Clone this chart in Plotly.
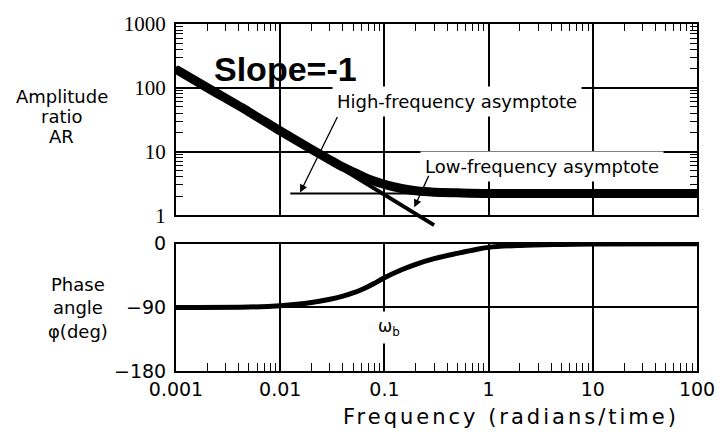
import plotly.graph_objects as go

# ---------------- data ----------------
freq_ar = [0.001, 0.002, 0.005, 0.01, 0.02, 0.03, 0.04, 0.05, 0.07, 0.1, 0.15, 0.2, 0.3, 0.5, 1, 10, 100]
ar = [195, 100, 42, 21, 10.8, 7.4, 5.7, 4.8, 3.7, 3.05, 2.6, 2.42, 2.3, 2.25, 2.2, 2.2, 2.2]

freq_slope_asym = [0.001, 0.3]
ar_slope_asym = [210, 0.7]

freq_flat_asym = [0.0125, 100]
ar_flat_asym = [2.2, 2.2]

freq_phase = [0.001, 0.005, 0.01, 0.02, 0.03, 0.04, 0.05, 0.06, 0.07, 0.08, 0.1, 0.15, 0.2, 0.3, 0.5, 0.7, 1, 2, 5, 10, 100]
phase = [-90, -89.5, -87.5, -83, -78.5, -74, -69.5, -65, -60.5, -56, -48, -36, -29, -21, -13.5, -9, -5, -2.2, -0.8, -0.3, 0]

x_tickvals = [0.001, 0.01, 0.1, 1, 10, 100]
x_ticktext = ["0.001", "0.01", "0.1", "1", "10", "100"]
ar_tickvals = [1, 10, 100, 1000]
ar_ticktext = ["1", "10", "100", "1000"]
phase_tickvals = [-180, -90, 0]
phase_ticktext = ["\u2212180", "\u221290", "0"]

ar_label_lines = ["Amplitude", "ratio", "AR"]
phase_label_lines = ["Phase", "angle", "\u03c6(deg)"]
x_title = "Frequency (radians/time)"

# ---------------- geometry ----------------
W, H = 727, 439
L, R, T, B = 176, 705, 19, 371
PW, PH = R - L, B - T
top_bottom_px = 213
bot_top_px = 242
top_dom = [(B - top_bottom_px) / PH, 1.0]
bot_dom = [0.0, (B - bot_top_px) / PH]
# extra invisible subplot so the slope asymptote can run below the frame
ext_px = 12
ext_dom = [(B - top_bottom_px - ext_px) / PH, 1.0]
px_per_dec = (top_bottom_px - T) / 3.0
ext_range = [-ext_px / px_per_dec, 3]


def px(xp):
    return (xp - L) / PW


def py(yp):
    return (B - yp) / PH


minor_x = [k * 10 ** e for e in range(-3, 2) for k in range(2, 10)]
minor_y = [k * 10 ** e for e in range(0, 3) for k in range(2, 10)]

FONT = "DejaVu Sans"

fig = go.Figure()

fig.add_trace(go.Scatter(x=freq_flat_asym, y=ar_flat_asym, mode="lines",
                         line=dict(color="black", width=2), xaxis="x", yaxis="y",
                         showlegend=False, hoverinfo="skip"))
fig.add_trace(go.Scatter(x=freq_ar, y=ar, mode="lines",
                         line=dict(color="black", width=9, shape="spline", smoothing=0.8),
                         xaxis="x", yaxis="y", showlegend=False))
fig.add_trace(go.Scatter(x=freq_slope_asym, y=ar_slope_asym, mode="lines",
                         line=dict(color="black", width=4), xaxis="x3", yaxis="y3",
                         showlegend=False, hoverinfo="skip"))
fig.add_trace(go.Scatter(x=freq_phase, y=phase, mode="lines",
                         line=dict(color="black", width=5, shape="spline", smoothing=1.0),
                         xaxis="x2", yaxis="y2", showlegend=False))

axis_common = dict(showline=True, linecolor="black", linewidth=2, mirror=True,
                   showgrid=True, gridcolor="black", gridwidth=1.6, zeroline=False)

fig.update_layout(
    width=W, height=H,
    margin=dict(l=L, r=W - R, t=T, b=H - B),
    paper_bgcolor="white", plot_bgcolor="rgba(0,0,0,0)",
    font=dict(family=FONT, size=18, color="black"),
    showlegend=False,
    xaxis=dict(type="log", range=[-3, 2], domain=[0, 1], anchor="y", side="top",
               tickmode="array", tickvals=x_tickvals, showticklabels=False,
               ticks="inside", ticklen=7, tickcolor="black", tickwidth=1.5,
               minor=dict(tickmode="array", tickvals=minor_x, ticks="inside", ticklen=7,
                          tickcolor="black", tickwidth=1.3, showgrid=False),
               **axis_common),
    yaxis=dict(type="log", range=[0, 3], domain=top_dom, anchor="x",
               tickmode="array", tickvals=ar_tickvals, ticktext=ar_ticktext,
               ticks="inside", ticklen=7, tickcolor="black", tickwidth=1.5,
               ticklabelstandoff=4,
               tickfont=dict(family="Liberation Serif", size=21),
               minor=dict(tickmode="array", tickvals=minor_y, ticks="inside", ticklen=7,
                          tickcolor="black", tickwidth=1.3, showgrid=False),
               **{**axis_common, "mirror": "ticks"}),
    xaxis2=dict(type="log", range=[-3, 2], domain=[0, 1], anchor="y2",
                tickmode="array", tickvals=x_tickvals, ticktext=x_ticktext,
                ticks="inside", ticklen=8, tickcolor="black", tickwidth=1.5,
                minor=dict(tickmode="array", tickvals=minor_x, ticks="inside", ticklen=8,
                           tickcolor="black", tickwidth=1.3, showgrid=False),
                tickfont=dict(family=FONT, size=19),
                **axis_common),
    yaxis2=dict(range=[-180, 0], domain=bot_dom, anchor="x2",
                tickmode="array", tickvals=phase_tickvals, ticktext=phase_ticktext,
                ticks="", ticklabelstandoff=4, tickfont=dict(family=FONT, size=19),
                **axis_common),
    xaxis3=dict(type="log", range=[-3, 2], domain=[0, 1], anchor="y3", visible=False),
    yaxis3=dict(type="log", range=ext_range, domain=ext_dom, anchor="x3", visible=False),
)

C = dict(xref="paper", yref="paper", xanchor="center", yanchor="middle", showarrow=False)
ann = []
ann.append(dict(text="<b>Slope=-1</b>", x=px(287), y=py(65),
                font=dict(family="Liberation Sans", size=34), **C))
ann.append(dict(text="High-frequency asymptote", x=px(461), y=py(98),
                bgcolor="white", borderpad=4, font=dict(size=18), **C))
ann.append(dict(text="Low-frequency asymptote", x=px(548), y=py(164),
                bgcolor="white", borderpad=4, font=dict(size=18), **C))
ann.append(dict(text="\u03c9<sub>b</sub>", x=px(392), y=py(327),
                bgcolor="white", borderpad=4, font=dict(size=17), **C))
for txt, yp in zip(ar_label_lines, [93, 113, 133]):
    ann.append(dict(text=txt, x=px(60), y=py(yp), font=dict(size=18), **C))
for txt, yp in zip(phase_label_lines, [283, 307, 331]):
    ann.append(dict(text=txt, x=px(76), y=py(yp), font=dict(size=18), **C))
ann.append(dict(text=x_title, x=px(516), y=py(418), font=dict(size=21), **C))
# arrows
ann.append(dict(text="", x=px(302), y=py(190), xref="paper", yref="paper", showarrow=True,
                ax=38, ay=-77, arrowhead=2, arrowsize=1.2, arrowwidth=1.3, arrowcolor="black",
                standoff=0))
ann.append(dict(text="", x=px(418), y=py(205), xref="paper", yref="paper", showarrow=True,
                ax=15, ay=-33, arrowhead=2, arrowsize=1.2, arrowwidth=1.3, arrowcolor="black",
                standoff=0))
fig.update_layout(annotations=ann)

post = (
    "document.body.style.margin='0';document.body.style.padding='0';"
    "document.body.style.overflow='hidden';"
    "document.querySelectorAll('text.annotation-text').forEach(function(t){"
    "if(t.textContent==='" + x_title + "'){t.style.letterSpacing='3px';}});"
)
fig.write_html("out.html", config={"displayModeBar": False}, post_script=post)
